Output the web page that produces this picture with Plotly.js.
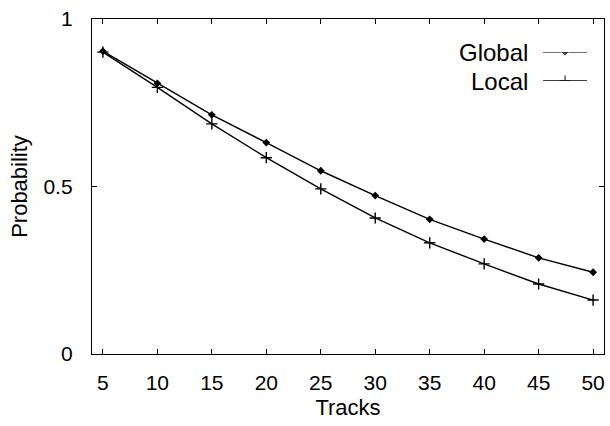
<!DOCTYPE html>
<html>
<head>
<meta charset="utf-8">
<script src="https://cdn.plot.ly/plotly-3.0.1.min.js"></script>
<style>html,body{margin:0;padding:0;background:#fff;}#chart{width:610px;height:426px;}</style>
</head>
<body>
<div id="chart"></div>
<script>
var tracks = [5, 10, 15, 20, 25, 30, 35, 40, 45, 50];
var globalProb = [0.904, 0.808, 0.714, 0.631, 0.547, 0.473, 0.402, 0.343, 0.287, 0.244];
var localProb = [0.901, 0.796, 0.687, 0.586, 0.493, 0.406, 0.332, 0.269, 0.209, 0.161];
var seriesNames = ["Global", "Local"];
var yTickVals = [0, 0.5, 1];
var yTickText = ["0", "0.5", "1"];

var FONT = "Liberation Sans, Arial, sans-serif";
var traces = [
  {x: tracks, y: globalProb, type: "scatter", mode: "lines+markers", name: seriesNames[0],
   line: {color: "#000", width: 1.4}, marker: {symbol: "diamond", size: 6, color: "#000"}, showlegend: false},
  {x: tracks, y: localProb, type: "scatter", mode: "lines+markers", name: seriesNames[1],
   line: {color: "#000", width: 1.4}, marker: {symbol: "cross-thin-open", size: 8, line: {color: "#000", width: 1.4}}, showlegend: false},
  // legend samples on a hidden overlay axis
  {x: [0, 0.5, 1], y: [1, 1, 1], xaxis: "x2", yaxis: "y2", type: "scatter", mode: "lines+markers",
   line: {color: "#000", width: 1.4}, marker: {symbol: "diamond", size: [0, 6, 0], color: "#000"}, showlegend: false, hoverinfo: "skip"},
  {x: [0, 0.5, 1], y: [0, 0, 0], xaxis: "x2", yaxis: "y2", type: "scatter", mode: "lines+markers",
   line: {color: "#000", width: 1.4}, marker: {symbol: "cross-thin-open", size: [0, 8, 0], line: {color: "#000", width: 1.4}}, showlegend: false, hoverinfo: "skip"}
];

var layout = {
  width: 610, height: 426,
  margin: {l: 92, r: 6, t: 19, b: 72},
  paper_bgcolor: "#fff", plot_bgcolor: "#fff",
  font: {family: FONT, size: 20, color: "#000"},
  showlegend: false,
  xaxis: {
    range: [4, 51], tickvals: tracks, ticks: "inside", ticklen: 5, tickwidth: 1, tickcolor: "#000",
    showline: true, linecolor: "#000", linewidth: 1.2, mirror: "ticks", showgrid: false, zeroline: false,
    tickfont: {family: FONT, size: 21}, ticklabelstandoff: 10,
    title: {text: "Tracks", font: {family: FONT, size: 22}, standoff: 6}
  },
  yaxis: {
    range: [0, 1], tickvals: yTickVals, ticktext: yTickText, ticks: "inside", ticklen: 5, tickwidth: 1, tickcolor: "#000",
    showline: true, linecolor: "#000", linewidth: 1.2, mirror: "ticks", showgrid: false, zeroline: false,
    tickfont: {family: FONT, size: 21}, ticklabelstandoff: 14,
    title: {text: "Probability", font: {family: FONT, size: 22}, standoff: 9}
  },
  xaxis2: {domain: [0.881, 0.967], range: [0, 1], visible: false, fixedrange: true, anchor: "y2"},
  yaxis2: {domain: [0.815, 0.901], range: [0, 1], visible: false, fixedrange: true, anchor: "x2"},
  annotations: [
    {xref: "paper", yref: "paper", x: 0.855, y: 0.900, xanchor: "right", yanchor: "middle", text: seriesNames[0], showarrow: false, font: {family: FONT, size: 24}},
    {xref: "paper", yref: "paper", x: 0.855, y: 0.813, xanchor: "right", yanchor: "middle", text: seriesNames[1], showarrow: false, font: {family: FONT, size: 24}}
  ]
};

Plotly.newPlot("chart", traces, layout, {displayModeBar: false, staticPlot: true});
</script>
</body>
</html>
